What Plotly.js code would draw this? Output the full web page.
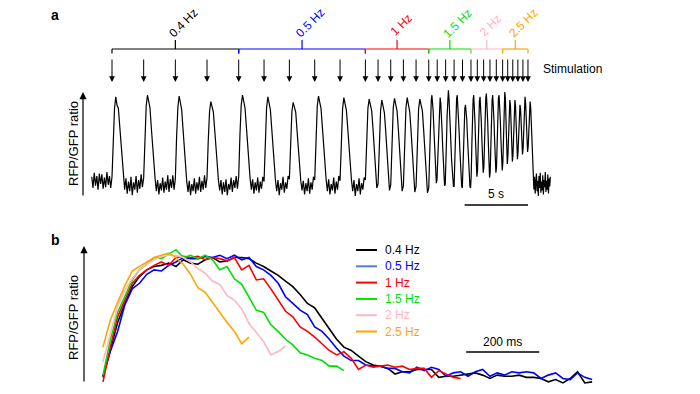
<!DOCTYPE html>
<html>
<head>
<meta charset="utf-8">
<script src="https://cdn.plot.ly/plotly-3.0.1.min.js"></script>
<style>html,body{margin:0;padding:0;background:#fff;}#chart{width:700px;height:394px;}</style>
</head>
<body>
<div id="chart"></div>
<script>
// ---------------- DATA ----------------
// Panel a: stimulation protocol (s)
const freqLabels = ['0.4 Hz', '0.5 Hz', '1 Hz', '1.5 Hz', '2 Hz', '2.5 Hz'];
const segStart = [0, 10, 20, 25, 28.333, 30.833];
const segEnd   = [10, 20, 25, 28.333, 30.833, 32.833];
const stimTimes = [0, 2.5, 5, 7.5, 10, 12, 14, 16, 18, 20, 21, 22, 23, 24,
  25, 25.667, 26.333, 27, 27.667, 28.333, 28.833, 29.333, 29.833, 30.333,
  30.833, 31.233, 31.633, 32.033, 32.433, 32.833];
const scaleBarA = 5; // s

// Panel a trace, part 1: starts at -1.6 s, sampled every 0.1 s
const traceA1Start = -1.6, traceA1Step = 0.1;
const traceA1 = [
  0.04,-0.1,0.09,-0.07,0.05,-0.12,0.08,-0.05,0.07,-0.11,0.03,-0.09,0.1,-0.06,0.05,-0.1,
  0.04,0.55,0.9,1.04,0.93,0.9,0.68,0.42,0.2,0.04,-0.12,0.02,-0.17,-0.02,-0.14,0.04,-0.19,-0.03,-0.12,0.05,-0.16,0.0,-0.11,0.07,-0.09,
  0.03,0.58,0.93,1.06,0.95,0.9,0.66,0.4,0.18,0.02,-0.14,0.0,-0.18,-0.04,-0.13,0.03,-0.16,-0.02,-0.12,0.06,-0.15,0.01,-0.1,0.06,-0.12,
  0.02,0.54,0.91,1.05,0.96,0.88,0.65,0.38,0.16,-0.02,-0.15,-0.01,-0.19,-0.05,-0.14,0.02,-0.17,-0.03,-0.13,0.04,-0.15,-0.01,-0.12,0.06,-0.1,
  0.03,0.5,0.86,0.98,0.9,0.85,0.64,0.38,0.17,0.0,-0.13,0.0,-0.18,-0.03,-0.15,0.01,-0.19,-0.05,-0.12,0.03,-0.15,0.0,-0.1,0.05,-0.11,
  0.04,0.57,0.94,1.06,0.95,0.9,0.68,0.42,0.2,0.02,-0.12,0.01,-0.17,-0.03,-0.13,0.03,-0.16,-0.02,-0.11,0.04,
  -0.02,0.52,0.9,1.04,0.93,0.88,0.66,0.4,0.18,0.0,-0.14,0.0,-0.19,-0.04,-0.12,0.04,-0.16,-0.03,-0.11,0.05,
  0.01,0.49,0.86,0.97,0.9,0.85,0.63,0.38,0.16,-0.01,-0.13,-0.01,-0.18,-0.04,-0.14,0.02,-0.17,-0.03,-0.12,0.04,
  0.0,0.54,0.92,1.05,0.95,0.89,0.67,0.41,0.19,0.01,-0.14,0.01,-0.18,-0.05,-0.13,0.03,-0.17,-0.02,-0.12,0.05,
  -0.01,0.52,0.89,1.03,0.93,0.87,0.66,0.4,0.18,0.0,-0.14,0.0,-0.2,-0.05,-0.14,0.02,-0.18,-0.04,-0.12,0.03,
  0.0,0.52,0.9,1.01,0.92,0.86,0.64,0.38,0.14,-0.1,
  -0.05,0.49,0.87,1.0,0.91,0.84,0.62,0.36,0.11,-0.13,
  -0.06,0.52,0.91,1.02,0.94,0.86,0.64,0.37,0.1,-0.14,
  -0.07,0.51,0.9,1.03,0.93,0.85,0.63,0.36,0.1,-0.15,
  -0.08,0.5,0.89,1.01,0.94,0.86,0.62,0.35,0.09,-0.16
];
// Panel a trace, part 2: starts at 25 s, sampled every 0.05 s
const traceA2Start = 25, traceA2Step = 0.05;
const traceA2 = [
  -0.1,0.28,0.62,0.88,1.0,1.06,0.97,0.86,0.66,0.44,0.26,0.08,-0.04,0.0,
  0.2,0.55,0.83,0.97,1.03,0.96,0.84,0.62,0.42,0.22,0.05,-0.07,-0.06,
  0.12,0.48,0.8,1.0,1.12,1.02,0.88,0.68,0.46,0.26,0.08,-0.06,-0.08,
  -0.08,0.3,0.64,0.9,1.02,1.06,0.95,0.82,0.6,0.4,0.2,0.03,-0.08,-0.1,
  0.18,0.52,0.78,0.9,0.94,0.88,0.76,0.56,0.36,0.18,0.02,-0.08,-0.1,
  0.05,0.42,0.78,1.0,1.06,0.94,0.72,0.46,0.22,0.04,
  0.12,0.48,0.8,0.98,1.04,0.93,0.72,0.48,0.26,0.09,
  0.16,0.5,0.82,1.02,1.08,0.96,0.74,0.48,0.24,0.03,
  0.1,0.46,0.8,1.0,1.06,0.95,0.74,0.5,0.28,0.09,
  0.16,0.52,0.84,1.02,1.06,0.94,0.74,0.5,0.3,0.12,
  0.22,0.6,0.92,1.1,1.02,0.75,0.45,0.2,
  0.3,0.65,0.9,1.0,0.93,0.7,0.45,0.23,
  0.32,0.66,0.9,1.0,0.92,0.72,0.48,0.26,
  0.36,0.65,0.86,0.94,0.88,0.7,0.5,0.32,
  0.4,0.72,0.95,1.04,0.95,0.76,0.55,0.35,
  0.42,0.72,0.92,0.98,0.9,0.68,0.4,0.15,-0.02,-0.12,0.04,-0.17,-0.03,0.08,-0.14,-0.01,-0.2,0.05,
  -0.1,0.09,-0.16,-0.02,-0.13,0.06,-0.18,0.0,-0.09,0.1,-0.15,-0.01,-0.12,0.07,-0.17,0.02,-0.08,0.04
];

// Panel b: averaged responses, sampled every 20 ms starting at 0 ms
const bStep = 20;
const b04 = [-0.03,0.21,0.46,0.63,0.78,0.87,0.93,0.96,0.97,0.99,0.96,1.02,0.99,0.98,1.02,1.04,1.0,1.01,1.04,1.04,
  1.03,0.99,0.96,0.92,0.88,0.83,0.78,0.71,0.63,0.59,0.5,0.4,0.31,0.24,0.21,0.16,0.11,0.08,0.07,0.05,
  0.0,0.02,0.02,0.04,0.04,0.04,-0.03,-0.02,-0.02,-0.01,0.0,0.01,-0.01,-0.04,-0.01,-0.02,-0.02,-0.01,-0.03,-0.03,
  -0.04,-0.07,-0.05,-0.08,-0.04,0.02,-0.08,-0.07];
const b05 = [-0.02,0.2,0.38,0.62,0.76,0.81,0.89,0.93,0.92,0.97,1.0,1.04,1.03,1.03,1.05,1.04,1.06,1.03,1.06,1.02,
  1.04,0.96,0.93,0.88,0.81,0.69,0.63,0.57,0.53,0.42,0.38,0.31,0.23,0.16,0.12,0.12,0.08,0.07,0.07,0.05,
  0.05,0.02,0.01,0.06,0.03,0.06,0.04,-0.02,0.01,0.02,-0.02,0.02,0.04,-0.02,0.01,-0.01,0.02,0.01,0.02,0.01,
  -0.04,-0.01,0.01,-0.04,-0.05,0.01,-0.03,-0.05];
const b1 = [-0.07,0.24,0.51,0.66,0.81,0.88,0.93,0.97,1.0,0.97,1.04,1.05,1.04,1.05,1.02,1.04,1.03,1.01,1.04,0.93,
  0.97,0.84,0.85,0.76,0.66,0.56,0.51,0.42,0.38,0.33,0.27,0.21,0.17,0.2,0.14,0.04,0.08,0.06,0.07,0.08,
  0.06,0.07,0.04,0.05,0.05,-0.03,0.03,0.0,-0.03,-0.04];
const b15 = [-0.01,0.3,0.55,0.7,0.84,0.93,0.98,1.04,1.03,1.07,1.11,1.04,1.06,1.03,1.06,1.02,0.93,0.96,0.85,0.8,
  0.69,0.57,0.55,0.44,0.38,0.31,0.26,0.19,0.17,0.14,0.12,0.07,0.07,0.03];
const b2 = [0.11,0.35,0.6,0.75,0.85,0.93,0.98,1.02,1.05,1.06,1.06,1.04,1.0,0.94,0.9,0.83,0.8,0.7,0.66,0.58,
  0.45,0.37,0.29,0.17,0.2,0.25];
const b25 = [0.24,0.48,0.64,0.79,0.92,0.96,1.0,1.04,1.06,1.08,1.04,0.98,0.89,0.77,0.73,0.64,0.54,0.46,0.38,0.27,0.33];
const scaleBarB = 200; // ms

// ---------------- STYLE ----------------
const colors = ['#000000', '#0000ff', '#ff0000', '#00e000', '#ffb6c1', '#ffa500'];
const legendLineColors = ['#000000', '#4f7fd6', '#ff0000', '#00e000', '#ffb6c1', '#ffa500'];
const FONT = 'Liberation Sans, Arial, Helvetica, sans-serif';

// pixel helpers (layout only)
const W = 700, H = 394;
const vA = px => (180 - px) / 80;   // panel a value at a given pixel row
const vB = px => (374 - px) / 112;  // panel b value at a given pixel row

function timeAxis(start, step, n) { const t = []; for (let i = 0; i < n; i++) t.push(+(start + i * step).toFixed(4)); return t; }

const traces = [];
traces.push({x: timeAxis(traceA1Start, traceA1Step, traceA1.length).concat(timeAxis(traceA2Start, traceA2Step, traceA2.length)),
  y: traceA1.concat(traceA2), xaxis: 'x', yaxis: 'y', mode: 'lines', line: {color: '#000', width: 1.2}, hoverinfo: 'skip'});

const bSeries = [b04, b05, b1, b15, b2, b25];
bSeries.forEach((s, i) => {
  traces.push({x: timeAxis(0, bStep, s.length), y: s, xaxis: 'x2', yaxis: 'y2', mode: 'lines',
    line: {color: colors[i], width: 1.6}, hoverinfo: 'skip'});
});

const shapes = [];
const annotations = [];
// brackets
freqLabels.forEach((lab, i) => {
  const c = colors[i], s = segStart[i], e = segEnd[i], m = (s + e) / 2;
  const lw = 1.2;
  shapes.push({type: 'line', xref: 'x', yref: 'y', x0: s, x1: e, y0: vA(49), y1: vA(49), line: {color: c, width: lw}});
  shapes.push({type: 'line', xref: 'x', yref: 'y', x0: s, x1: s, y0: vA(49), y1: vA(53.5), line: {color: c, width: lw}});
  shapes.push({type: 'line', xref: 'x', yref: 'y', x0: e, x1: e, y0: vA(49), y1: vA(53.5), line: {color: c, width: lw}});
  shapes.push({type: 'line', xref: 'x', yref: 'y', x0: m, x1: m, y0: vA(49), y1: vA(40), line: {color: c, width: lw}});
  const short = lab.length <= 4;
  annotations.push({x: m, y: vA(short ? 25 : 23), xref: 'x', yref: 'y', text: lab, showarrow: false,
    textangle: -45, xanchor: 'center', yanchor: 'middle', xshift: short ? 4 : 8,
    font: {family: FONT, size: 12, color: c}});
});
// stimulation arrows
stimTimes.forEach(t => {
  annotations.push({x: t, y: vA(82), xref: 'x', yref: 'y', text: '', showarrow: true, ax: 0, ay: -24,
    arrowhead: 2, arrowsize: 1.15, arrowwidth: 1, arrowcolor: '#000', standoff: 0});
});
annotations.push({x: 541 / W, y: 1 - 69 / H, xref: 'paper', yref: 'paper', text: 'Stimulation', showarrow: false,
  xanchor: 'left', yanchor: 'middle', font: {family: FONT, size: 12, color: '#000'}});
// scale bar a
const sbEnd = stimTimes[stimTimes.length - 1];
shapes.push({type: 'line', xref: 'x', yref: 'y', x0: sbEnd - scaleBarA, x1: sbEnd, y0: vA(205), y1: vA(205), line: {color: '#000', width: 1.6}});
annotations.push({x: sbEnd - scaleBarA / 2, y: vA(194), xref: 'x', yref: 'y', text: scaleBarA + ' s', showarrow: false,
  xanchor: 'center', yanchor: 'middle', font: {family: FONT, size: 12, color: '#000'}});
// axis arrows
annotations.push({x: 83 / W, y: 1 - 92 / H, xref: 'paper', yref: 'paper', text: '', showarrow: true, ax: 0, ay: 105,
  arrowhead: 2, arrowsize: 1.2, arrowwidth: 1.2, arrowcolor: '#000', standoff: 0});
annotations.push({x: 84 / W, y: 1 - 246 / H, xref: 'paper', yref: 'paper', text: '', showarrow: true, ax: 0, ay: 137,
  arrowhead: 2, arrowsize: 1.2, arrowwidth: 1.2, arrowcolor: '#000', standoff: 0});
// y titles
annotations.push({x: 73 / W, y: 1 - 144 / H, xref: 'paper', yref: 'paper', text: 'RFP/GFP ratio', showarrow: false,
  textangle: -90, xanchor: 'center', yanchor: 'middle', font: {family: FONT, size: 13, color: '#000'}});
annotations.push({x: 73 / W, y: 1 - 318 / H, xref: 'paper', yref: 'paper', text: 'RFP/GFP ratio', showarrow: false,
  textangle: -90, xanchor: 'center', yanchor: 'middle', font: {family: FONT, size: 13, color: '#000'}});
// panel letters
annotations.push({x: 55 / W, y: 1 - 15 / H, xref: 'paper', yref: 'paper', text: '<b>a</b>', showarrow: false,
  xanchor: 'center', yanchor: 'middle', font: {family: FONT, size: 14, color: '#000'}});
annotations.push({x: 55 / W, y: 1 - 240 / H, xref: 'paper', yref: 'paper', text: '<b>b</b>', showarrow: false,
  xanchor: 'center', yanchor: 'middle', font: {family: FONT, size: 14, color: '#000'}});
// scale bar b
shapes.push({type: 'line', xref: 'x2', yref: 'y2', x0: 995, x1: 995 + scaleBarB, y0: vB(352), y1: vB(352), line: {color: '#000', width: 1.6}});
annotations.push({x: 995 + scaleBarB / 2, y: vB(342), xref: 'x2', yref: 'y2', text: scaleBarB + ' ms', showarrow: false,
  xanchor: 'center', yanchor: 'middle', font: {family: FONT, size: 12, color: '#000'}});
// manual legend
freqLabels.forEach((lab, i) => {
  const yp = 250 + 16.3 * i;
  shapes.push({type: 'line', xref: 'paper', yref: 'paper', x0: 356 / W, x1: 377 / W, y0: 1 - yp / H, y1: 1 - yp / H,
    line: {color: legendLineColors[i], width: 2}});
  annotations.push({x: 383 / W, y: 1 - yp / H, xref: 'paper', yref: 'paper', text: lab, showarrow: false,
    xanchor: 'left', yanchor: 'middle', font: {family: FONT, size: 12, color: colors[i]}});
});

const layout = {
  width: W, height: H, margin: {l: 0, r: 0, t: 0, b: 0},
  paper_bgcolor: '#fff', plot_bgcolor: 'rgba(0,0,0,0)', showlegend: false,
  font: {family: FONT, size: 12, color: '#000'},
  xaxis: {domain: [85 / W, 560 / W], range: [-2.131, 35.36], visible: false, fixedrange: true},
  yaxis: {domain: [1 - 210 / H, 1 - 15 / H], range: [vA(210), vA(15)], visible: false, fixedrange: true},
  xaxis2: {domain: [84 / W, 600 / W], range: [-52.05, 1361.6], visible: false, anchor: 'y2', fixedrange: true},
  yaxis2: {domain: [1 - 390 / H, 1 - 240 / H], range: [vB(390), vB(240)], visible: false, anchor: 'x2', fixedrange: true},
  shapes: shapes, annotations: annotations
};

Plotly.newPlot('chart', traces, layout, {displayModeBar: false, staticPlot: true});
</script>
</body>
</html>
